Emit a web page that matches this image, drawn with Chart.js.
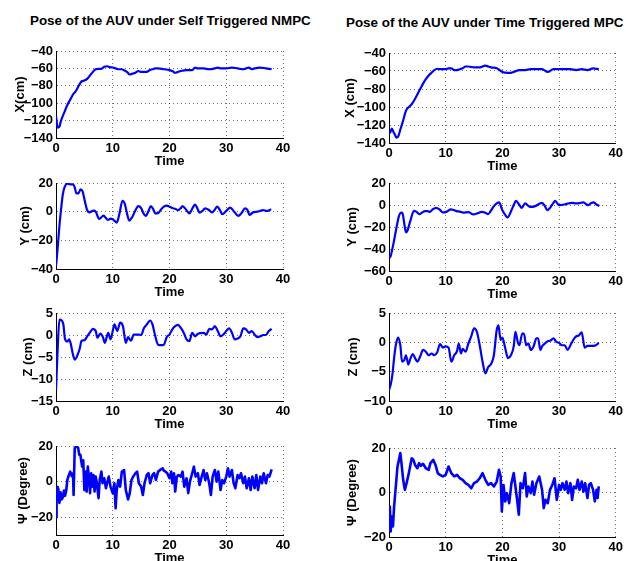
<!DOCTYPE html>
<html>
<head>
<meta charset="utf-8">
<script src="https://cdn.jsdelivr.net/npm/chart.js@4.4.1/dist/chart.umd.min.js"></script>
<style>
  html, body { margin: 0; padding: 0; background: #fff; overflow: hidden; }
  body { width: 626px; height: 561px; position: relative; }
  canvas { position: absolute; }
  .ttl { position: absolute; font-family: "Liberation Sans", Arial, Helvetica, sans-serif; font-weight: bold; font-size: 13.4px; line-height: 16px; white-space: nowrap; color: #000; }
</style>
</head>
<body>
<div class="ttl" style="left:30px; top:13px;">Pose of the AUV under Self Triggered NMPC</div>
<div class="ttl" style="left:346px; top:14.5px;">Pose of the AUV under Time Triggered MPC</div>
<canvas id="c1"></canvas><canvas id="c2"></canvas>
<canvas id="c3"></canvas><canvas id="c4"></canvas>
<canvas id="c5"></canvas><canvas id="c6"></canvas>
<canvas id="c7"></canvas><canvas id="c8"></canvas>
<script>
// ---------- tick labels ----------
const timeTicks = [0, 10, 20, 30, 40];
const xPosTicks = [-140, -120, -100, -80, -60, -40];
const yPosTicksST = [-40, -20, 0, 20];
const yPosTicksTT = [-60, -40, -20, 0, 20];
const zPosTicksST = [-15, -10, -5, 0, 5];
const zPosTicksTT = [-10, -5, 0, 5];
const psiTicks = [-20, 0, 20];

// ---------- Self Triggered NMPC ----------
const stTimeX = [0,0.3,0.6,0.8,1,1.5,2,2.5,3,3.5,4,4.5,5,5.5,6,6.5,7,7.5,8,8.5,9,9.5,10,10.5,11,11.5,12,12.5,13,13.5,14,14.5,15,15.5,16,16.5,17,17.5,18,19,20,20.5,21,21.5,22,23,24,24.5,25,26,27,28,28.5,29,30,31,32,33,33.5,34,34.5,35,36,37,38];
const stX = [-115,-128,-127,-122,-118,-110,-102,-96,-90,-86,-80,-75,-74,-72,-68,-64,-61,-60.5,-60.5,-58,-57.5,-58.5,-59,-60,-61,-61,-62,-64,-67,-66,-65,-63,-64,-64,-64,-62,-61,-60,-60,-61,-62,-63,-65,-64,-63,-62,-62,-59,-60,-60,-61,-60,-59,-60,-60,-59,-60,-61,-60,-59,-61,-60,-59,-60,-61];

const stTimeY = [0,0.3,0.6,0.9,1.2,1.5,2,2.5,3,3.3,3.6,4,4.3,4.7,5.1,5.5,5.9,6.6,7,7.6,8.4,8.8,9.2,9.6,10,10.7,11.2,11.7,12.1,12.5,12.9,13.4,14,14.5,15,15.4,15.8,16.3,16.7,17.1,17.5,18,18.5,19,19.5,20,20.5,21,21.5,22,22.3,22.9,23.5,24,24.5,25,25.3,25.8,26.3,27,27.5,28,28.4,28.9,29.3,30,30.7,31.4,32.1,32.7,33.3,33.7,34.1,34.7,35.5,36.5,37.1,37.5,37.9];
const stY = [-38,-25,-10,2,12,17,19.5,19,19,17,12.7,13,15.5,14,7,1,-0.5,0.7,0,-5,-2.8,-4.5,-5.8,-4.8,-5.3,-7.6,-1,7.6,5.8,-1,-6.2,-4,1,3.9,2.5,-1,-3,0.5,3.9,2,-1.2,-1,1.5,3.5,4.2,3.5,2.5,2,1.1,2.5,3.9,1.5,-1.2,2,5,1.5,-0.7,0.5,2.3,1,-0.5,1.5,3.5,1,-1.8,0.5,2.8,0,-3,-1,2.3,1.5,-2.3,-0.5,0,1.1,0.5,0.8,1.8];

const stTimeZ = [0,0.3,0.6,1,1.3,1.6,2,2.3,2.6,3,3.3,3.8,4.2,4.5,5,5.5,6,6.5,7,7.3,7.8,8.3,8.6,9.2,9.6,10,10.3,10.8,11.3,11.8,12.3,12.7,13.2,13.7,14.5,15,15.5,16,16.6,17,17.5,18,18.5,19,19.5,20,20.5,21,21.5,22,22.5,23,23.5,24,24.5,25,26,26.5,27,27.5,28,28.5,29,29.5,30,30.5,31,31.5,32,32.5,33,33.5,34,34.5,35,35.5,36,36.5,37,37.5,38];
const stZ = [-12.5,-3,3.5,3.3,2.4,-1,-1.5,-1,-2,-4.5,-5.6,-4.5,-3,-1.3,-1.2,-0.3,0.6,1.4,0.9,-0.6,0.3,-0.6,-1.8,0.5,-1,0.9,2.4,0.9,2.8,2,-1.8,-0.5,-1.3,0.1,0.1,0,1.6,2.4,3.3,2.4,-0.3,-2.2,-2.3,-2.2,-0.5,0.1,1.3,2,2.3,1.6,0.5,-1,-1.4,0.5,-0.3,0.3,0.5,0.1,1.4,1.3,2,0.9,-0.3,0.1,0.9,1.5,0.5,-1,-0.8,-0.3,1.5,1.3,0.5,0.9,0.1,-0.5,-0.3,0,0,0.9,1.4];

const stTimePsi = [0,0.1,0.2,0.3,0.4,0.6,0.8,1.0,1.2,1.4,1.6,1.8,2.0,2.2,2.5,2.8,3.0,3.1,3.3,3.6,3.9,4.1,4.3,4.6,4.8,5.0,5.2,5.4,5.6,5.8,6.0,6.2,6.4,6.6,6.8,7.0,7.2,7.5,7.7,8.0,8.2,8.5,8.8,9.0,9.3,9.6,10,10.3,10.5,10.7,11,11.3,11.6,12,12.3,12.7,13,13.3,13.6,14,14.3,14.6,15,15.3,15.6,16,16.3,16.6,17,17.3,17.6,18,18.5,18.8,19,19.3,19.6,20,20.3,20.5,20.8,21,21.3,21.6,22,22.3,22.6,23,23.3,23.6,24,24.3,24.6,25,25.3,25.6,26,26.3,26.6,27,27.3,27.6,28,28.3,28.6,29,29.3,29.6,30,30.3,30.6,31,31.3,31.6,32,32.3,32.6,33,33.3,33.6,34,34.3,34.6,35,35.3,35.6,36,36.3,36.6,37,37.3,37.6,38];
const stPsi = [-20,-8,-3,-10,-4,-12,-6,-10,-9,-5,-8,-5,1,3,5.6,3,4.7,-7.5,18.7,20,19,15,15,8.4,12,-4.7,5.6,-5.6,8.4,2.8,-6.5,4.7,-2.8,3.7,-5.6,2.8,-0.9,-9.3,0.9,5.6,-0.9,1.9,-3.7,-0.9,2.8,-2.8,-6.5,-0.9,-15,-4.7,0.9,-2.8,5.6,6.5,-4.7,-10,-6.5,0.9,2.8,4.7,5.6,-0.9,-2.8,-7.5,-0.9,3.7,4.7,-0.9,3.7,4.7,0.9,5.6,6.9,7.5,6.2,5.6,4.7,1.9,5.6,-0.9,4.7,-5.6,2.8,3.7,2.8,5.6,-2.8,1.9,-6.5,0,4.7,8.4,2.8,4.7,-1.9,1.9,6.5,0.9,4.7,-0.9,-7.5,2.8,6.5,0,5.6,-4.7,0.9,-0.9,2.8,7.5,2.8,6.5,-0.9,-3.7,3.7,1.9,4.7,-0.9,2.8,-3.7,1.9,-4.7,2.8,-3.7,3.7,-4.7,2.8,-0.9,4.7,-0.9,3.7,2.8,6.9];

// ---------- Time Triggered MPC ----------
const ttTimeX = [0,0.3,0.5,0.8,1,1.3,1.6,2,2.5,3,3.5,4,4.5,5,5.5,6,6.5,7,7.5,8,8.5,9,9.5,10,10.5,11,11.5,12,12.5,13,13.5,14,15,16,17,17.5,18,19,19.5,20,21,21.5,22,23,24,25,26,27,28,29,30,31,32,33,34,35,36,37];
const ttX = [-130,-127,-124,-128,-130,-134,-133,-125,-115,-104,-100,-97,-92,-86,-80,-74,-69,-65,-62,-59,-57.5,-58,-58,-58,-57,-57,-59,-59,-58,-57,-55,-55,-56,-56,-54,-55,-56,-57,-59,-61,-62,-62,-61,-59,-59,-58,-58,-58,-61,-58,-58,-58,-58,-59,-58,-59,-57,-58];

const ttTimeY = [0,0.2,0.5,0.9,1.35,1.7,1.95,2.35,2.7,3,3.2,3.8,4.4,4.8,5.35,5.8,6.35,6.8,7.2,7.7,8.3,8.9,9.5,10.2,10.9,11.4,11.9,12.5,13.1,14,14.9,15.6,16.35,17,17.5,18,18.4,19,19.4,20,20.5,20.9,21.6,22,22.4,23,23.4,24,24.9,25.8,26.6,27,27.5,27.9,28.4,29,29.3,30,31.2,32.2,33.1,34.3,35.1,35.6,36.1,36.6,37.1];
const ttY = [-46,-47.7,-42,-32,-19.7,-11,-7.7,-7,-17,-25,-24,-13.7,-5.3,-6,-8.3,-7,-5.6,-5.5,-6.2,-4,-2.6,-4,-6.8,-6,-4,-4.5,-5.6,-6,-7,-6.5,-8.6,-7.5,-6.2,-7,-8.3,-5,-1.7,1.5,2.3,-4.7,-9,-11.3,-4.7,0,3.8,0,-2.6,1.4,-1.7,-1,1.4,2,-1,-4.7,-2.6,2,3.8,-0.2,0.8,2,1.4,2.3,-0.2,1.5,2.3,0.5,-1];

const ttTimeZ = [0,0.3,0.6,0.9,1.2,1.6,2,2.3,2.7,3,3.4,3.8,4.2,4.6,5,5.5,6,6.5,7,7.5,8,8.5,9,9.5,10,10.5,11,11.5,12,12.3,12.7,13,13.5,14,14.5,15,15.5,16,16.5,17,17.5,18,18.5,19,19.3,19.7,20,20.5,21,21.5,22,22.3,22.7,23,23.5,23.8,24.2,24.6,25,25.5,26,26.3,26.7,27,27.5,28,28.5,29,29.5,30,30.5,31,31.5,32,32.5,33,33.5,34,34.5,35,35.5,36,36.5,37];
const ttZ = [-8.1,-7.2,-5.5,-2.7,-0.5,0.8,-0.5,-3.3,-3,-2.2,-3.8,-2.7,-2,-2.7,-3.3,-2.4,-1.3,-1.6,-2.2,-1.9,-2.2,-1.7,-0.3,-0.9,-0.7,-0.9,-3.3,-2.2,-1.5,-0.2,-1.9,-1.1,-1.6,-0.2,1,2.4,1.8,-0.5,-3.3,-5.3,-4.2,-3.7,-2.2,2.1,2.9,0.4,0.8,-1,-2.7,-2.2,-0.7,1.8,0.1,-0.5,1.5,1.5,-0.5,-0.2,-1.3,-0.7,0.7,0.7,-1.3,-0.7,-0.2,0.2,0.3,0.7,0.1,-0.1,-0.5,-0.5,-1.3,-0.5,0.4,1,1.2,1.7,-0.9,-0.6,-0.6,-0.6,-0.5,-0.1];

const ttTimePsi = [0,0.15,0.3,0.5,0.7,0.9,1.1,1.3,1.5,1.7,2.0,2.2,2.5,2.8,3.1,3.5,4,4.3,4.6,5,5.3,5.6,6,6.5,7,7.3,7.8,8.2,8.6,9,9.5,10,10.5,11,11.5,12,12.5,13,13.5,14,14.5,15,15.5,16,16.5,17,17.5,18,18.5,19,19.4,19.7,19.9,20.2,20.5,20.8,21.2,21.6,22,22.3,22.6,22.9,23.2,23.6,24,24.3,24.6,25,25.3,25.6,26,26.5,27,27.3,27.6,28,28.4,28.8,29.2,29.6,30,30.3,30.6,31,31.3,31.6,32,32.3,32.6,33,33.3,33.6,34,34.3,34.6,35,35.3,35.6,36,36.3,36.6,36.8,37];
const ttPsi = [-16.8,-6.3,-17.5,-10.8,-15.3,-6.3,-0.3,5.7,11.7,14,17.7,13.2,5.7,1.2,4.2,8.7,15.4,14.7,12.4,10.9,13.2,12,12.9,10.9,10.2,13.2,14.7,12.4,8.7,7.9,7.2,7.9,11.7,8.7,7.2,7.9,6.4,5.7,4.2,3.4,1.9,4.2,4.9,6.4,8.7,5.7,3.4,4.2,2.7,4.9,10.2,7.2,-8.5,3.4,-4,-0.3,-4.8,4.2,8.7,2.7,-3.3,-10,4.2,1.9,8.7,-1.8,2.7,-0.3,4.9,-1,4.2,7.2,1.2,-7,-3.3,-4.8,1.2,3.4,6.4,-3.3,3.4,1.2,4.2,1.2,4.9,-0.3,4.2,-3.3,2.7,1.9,5.7,1.2,4.9,0.4,4.2,-2.5,3.4,4.2,1.2,-4,1.2,-2.5,2.7];

// ---------- drawing ----------
const FONT = { family: '"Liberation Sans", Arial, Helvetica, sans-serif', size: 13, weight: 'bold' };
const Y_AXIS_W = 52, X_AXIS_H = 34, PAD_TOP = 12;

function fmt(v) { return String(v).replace('-', '\u2212'); }

function makeChart(id, area, times, values, yTicks, yMin, yMax, yLabel, yTitleX, smooth) {
  const cv = document.getElementById(id);
  const padRight = area.padRight;
  const left = area.l - Y_AXIS_W;
  const top = area.t - PAD_TOP;
  const w = Y_AXIS_W + (area.r - area.l) + padRight;
  const h = PAD_TOP + (area.b - area.t) + X_AXIS_H;
  cv.width = w; cv.height = h;
  cv.style.left = left + 'px'; cv.style.top = top + 'px';
  cv.style.width = w + 'px'; cv.style.height = h + 'px';
  const titlePad = yTitleX - left - FONT.size * 1.2 / 2;
  const gridOpts = { color: 'rgba(0,0,0,0.55)', lineWidth: 1, drawTicks: false };
  const borderOpts = { display: true, color: '#000', width: 1, dash: [1, 3] };
  new Chart(cv, {
    type: 'line',
    data: {
      datasets: [{
        data: times.map((t, i) => ({ x: t, y: values[i] })),
        borderColor: '#0000ff',
        borderWidth: smooth ? 2.2 : 2.6,
        borderJoinStyle: 'round',
        pointRadius: 0,
        fill: false,
        tension: 0,
        cubicInterpolationMode: smooth ? 'monotone' : 'default'
      }]
    },
    options: {
      responsive: false,
      animation: false,
      devicePixelRatio: 1,
      layout: { padding: { top: PAD_TOP, right: padRight, bottom: 0, left: 0 } },
      plugins: { legend: { display: false }, tooltip: { enabled: false }, title: { display: false } },
      scales: {
        x: {
          type: 'linear', min: 0, max: 40,
          afterBuildTicks: s => { s.ticks = timeTicks.map(v => ({ value: v })); },
          afterFit: s => { s.height = X_AXIS_H; },
          ticks: { font: FONT, color: '#000', padding: 3, autoSkip: false, maxRotation: 0, callback: v => fmt(v) },
          grid: gridOpts, border: borderOpts,
          title: { display: true, text: 'Time', font: FONT, color: '#000', padding: { top: 0, bottom: 3 } }
        },
        y: {
          type: 'linear', min: yMin, max: yMax,
          afterBuildTicks: s => { s.ticks = yTicks.map(v => ({ value: v })); },
          afterFit: s => { s.width = Y_AXIS_W; },
          ticks: { font: FONT, color: '#000', padding: 3, autoSkip: false, callback: v => fmt(v) },
          grid: gridOpts, border: borderOpts,
          title: { display: true, text: yLabel, font: FONT, color: '#000', padding: { top: titlePad, bottom: 0 } }
        }
      }
    }
  });
}

const L = { l: 56, r: 283, padRight: 12 };
const R = { l: 389, r: 616, padRight: 10 };

makeChart('c1', Object.assign({ t: 51, b: 138 }, L), stTimeX, stX, xPosTicks, -140, -40, 'X(cm)', 20, true);
makeChart('c2', Object.assign({ t: 53, b: 143 }, R), ttTimeX, ttX, xPosTicks, -140, -40, 'X (cm)', 350, true);
makeChart('c3', Object.assign({ t: 183, b: 269 }, L), stTimeY, stY, yPosTicksST, -40, 20, 'Y (cm)', 25, true);
makeChart('c4', Object.assign({ t: 183, b: 271 }, R), ttTimeY, ttY, yPosTicksTT, -60, 20, 'Y (cm)', 352, true);
makeChart('c5', Object.assign({ t: 313, b: 401 }, L), stTimeZ, stZ, zPosTicksST, -15, 5, 'Z (cm)', 28, true);
makeChart('c6', Object.assign({ t: 313, b: 401 }, R), ttTimeZ, ttZ, zPosTicksTT, -10, 5, 'Z (cm)', 353, true);
makeChart('c7', Object.assign({ t: 446, b: 535 }, L), stTimePsi, stPsi, psiTicks, -30, 20, '\u03A8 (Degree)', 23, false);
makeChart('c8', Object.assign({ t: 448, b: 537 }, R), ttTimePsi, ttPsi, psiTicks, -20, 20, '\u03A8 (Degree)', 352, false);
</script>
</body>
</html>
